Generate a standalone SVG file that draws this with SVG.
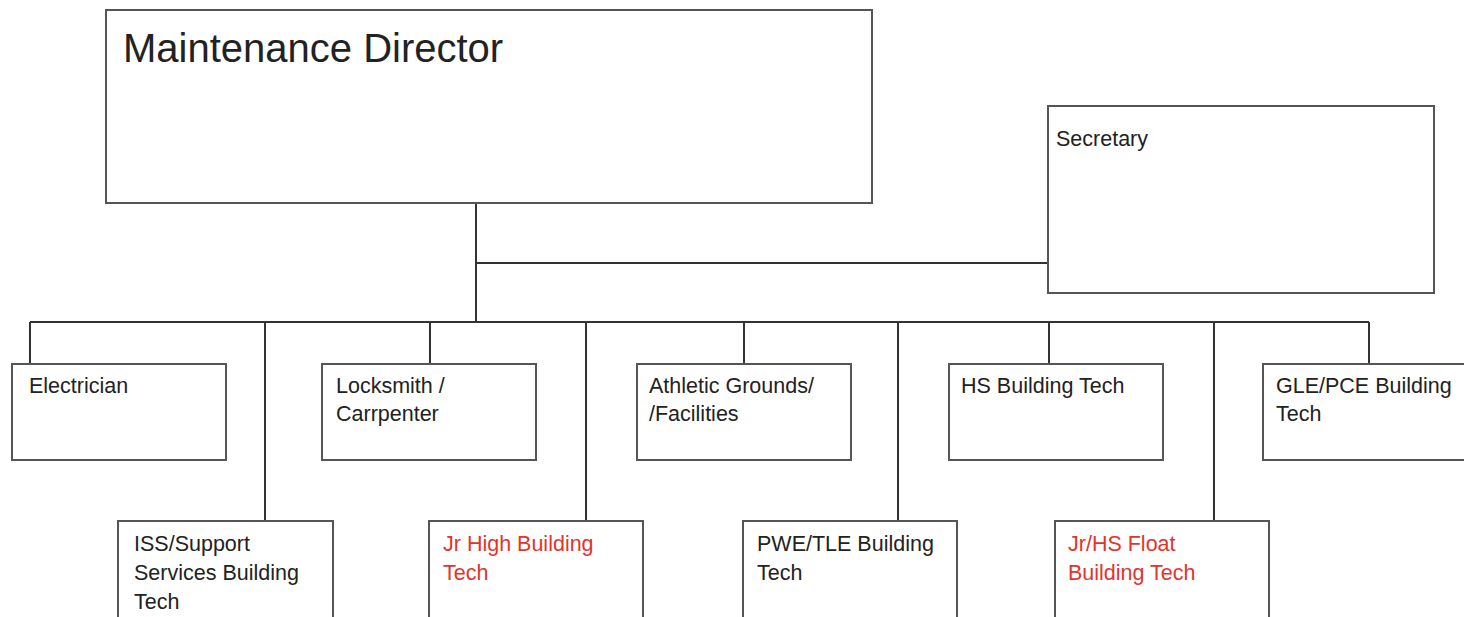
<svg xmlns="http://www.w3.org/2000/svg" width="1464" height="617" viewBox="0 0 1464 617">
<style>
.box{fill:#fff;stroke:#555;stroke-width:2}
.ln{stroke:#333;stroke-width:2;fill:none}
.t{font-family:"Liberation Sans",Arial,sans-serif;font-size:21.5px;fill:#222}
.r{fill:#e3342b}
</style>
<rect width="1464" height="617" fill="#fff"/>
<g id="connectors">
<path class="ln" d="M476 203V322M476 263H1048M30 322H1369"/>
<path class="ln" d="M30 322V364M265 322V521M430 322V364M586 322V521M744 322V364M898 322V521M1049 322V364M1214 322V521M1369 322V364"/>
</g>
<g id="director"><rect class="box" x="106" y="10" width="766" height="193"/><text class="t" x="123" y="62" style="font-size:40px">Maintenance Director</text></g>
<g id="secretary"><rect class="box" x="1048" y="106" width="386" height="187"/><text class="t" x="1056" y="146">Secretary</text></g>
<g id="electrician"><rect class="box" x="12" y="364" width="214" height="96"/><text class="t" x="29" y="393">Electrician</text></g>
<g id="locksmith"><rect class="box" x="322" y="364" width="214" height="96"/><text class="t" x="336" y="393">Locksmith /</text><text class="t" x="336" y="421">Carrpenter</text></g>
<g id="athletic"><rect class="box" x="637" y="364" width="214" height="96"/><text class="t" x="649" y="393">Athletic Grounds/</text><text class="t" x="649" y="421">/Facilities</text></g>
<g id="hs"><rect class="box" x="949" y="364" width="214" height="96"/><text class="t" x="961" y="393">HS Building Tech</text></g>
<g id="gle"><rect class="box" x="1263" y="364" width="214" height="96"/><text class="t" x="1276" y="393">GLE/PCE Building</text><text class="t" x="1276" y="421">Tech</text></g>
<g id="iss"><rect class="box" x="118" y="521" width="215" height="110"/><text class="t" x="134" y="551">ISS/Support</text><text class="t" x="134" y="580">Services Building</text><text class="t" x="134" y="609">Tech</text></g>
<g id="jrhigh"><rect class="box" x="429" y="521" width="214" height="110"/><text class="t r" x="443" y="551">Jr High Building</text><text class="t r" x="443" y="580">Tech</text></g>
<g id="pwe"><rect class="box" x="743" y="521" width="214" height="110"/><text class="t" x="757" y="551">PWE/TLE Building</text><text class="t" x="757" y="580">Tech</text></g>
<g id="jrhs"><rect class="box" x="1055" y="521" width="214" height="110"/><text class="t r" x="1068" y="551">Jr/HS Float</text><text class="t r" x="1068" y="580">Building Tech</text></g>
</svg>
